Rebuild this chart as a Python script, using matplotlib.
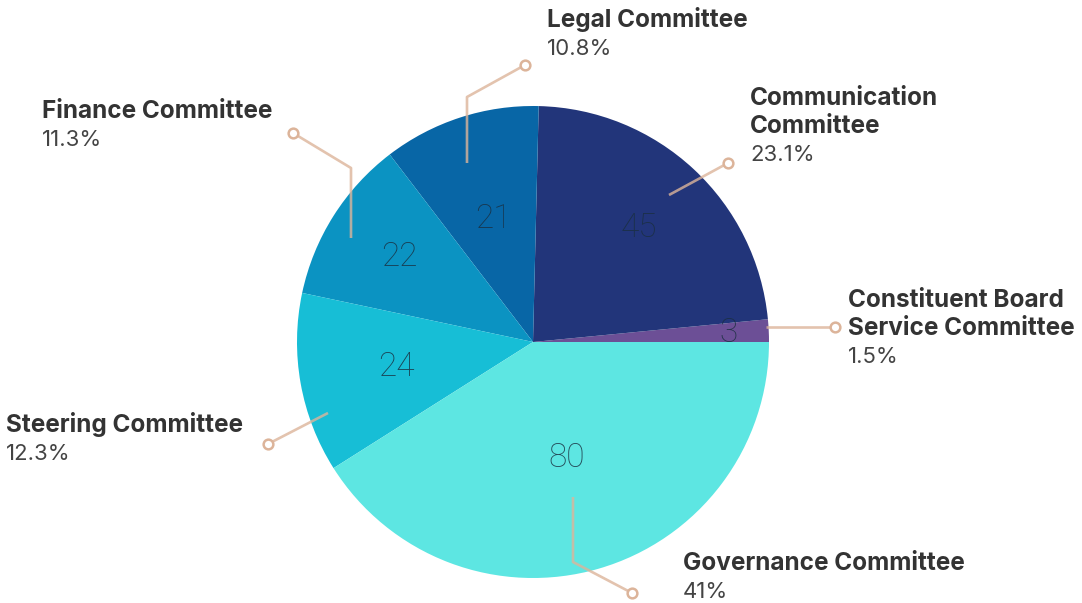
import matplotlib
matplotlib.use("Agg")
import matplotlib.pyplot as plt
import numpy as np

# datos del grafico
comites = ["Constituent Board\nService Committee", "Communication\nCommittee",
           "Legal Committee", "Finance Committee", "Steering Committee",
           "Governance Committee"]
valores = [3, 45, 21, 22, 24, 80]
colores = ["#6c4f96", "#22357a", "#0866a6", "#0b93c2", "#17bed6", "#5de6e2"]

W, H = 1082, 603

fig = plt.figure(figsize=(W / 100, H / 100), dpi=100)
ax = fig.add_axes([0, 0, 1, 1])

cx, cy, R = 533, H - 342, 236
cunas, _ = ax.pie(valores, colors=colores, startangle=0, counterclock=True,
                  radius=R, center=(cx, cy), wedgeprops=dict(linewidth=0))
ax.set_xlim(0, W)
ax.set_ylim(0, H)
ax.set_aspect("equal")
ax.axis("off")

# numeros dentro de cada porcion
radio_num = [0.83, 0.66, 0.55, 0.67, 0.59, 0.51]
for cuna, v, f in zip(cunas, valores, radio_num):
    ang = np.radians((cuna.theta1 + cuna.theta2) / 2)
    ax.text(cx + R * f * np.cos(ang), cy + R * f * np.sin(ang), str(v),
            ha="center", va="center", fontsize=24, color="#1a2f40",
            family="Roboto", fontweight="light", alpha=0.85)

# lineas guia (pixeles de la imagen)
guias = [
    [(766, 327), (835, 327)],
    [(669, 195), (728, 163)],
    [(467, 163), (467, 97), (525, 65)],
    [(351, 238), (351, 168), (293, 133)],
    [(328, 413), (268, 444)],
    [(573, 497), (573, 562), (632, 593)],
]
for pts in guias:
    xs = [p[0] for p in pts]
    ys = [H - p[1] for p in pts]
    ax.plot(xs, ys, color="#dcb49a", lw=1.9, alpha=0.8, solid_capstyle="butt")
    ax.plot(xs[-1], ys[-1], "o", ms=7, mfc="white", mec="#dcb49a", mew=1.8)

# posicion de los textos (x, linea base de la primera linea)
pos_texto = [(848, 307), (750, 105), (547, 27), (42, 118), (6, 432), (683, 570)]
total = sum(valores)
for nombre, v, (x, y) in zip(comites, valores, pos_texto):
    lineas = nombre.split("\n")
    for i, l in enumerate(lineas):
        ax.text(x, H - (y + i * 28), l, ha="left", va="baseline", fontsize=17.5,
                fontweight="bold", color="#333333", family="Inter")
    pct = f"{100 * v / total:.1f}".rstrip("0").rstrip(".") + "%"
    ax.text(x, H - (y + len(lineas) * 28), pct, ha="left", va="baseline",
            fontsize=16, color="#444444", family="Inter")

fig.savefig("out.png", dpi=100)
